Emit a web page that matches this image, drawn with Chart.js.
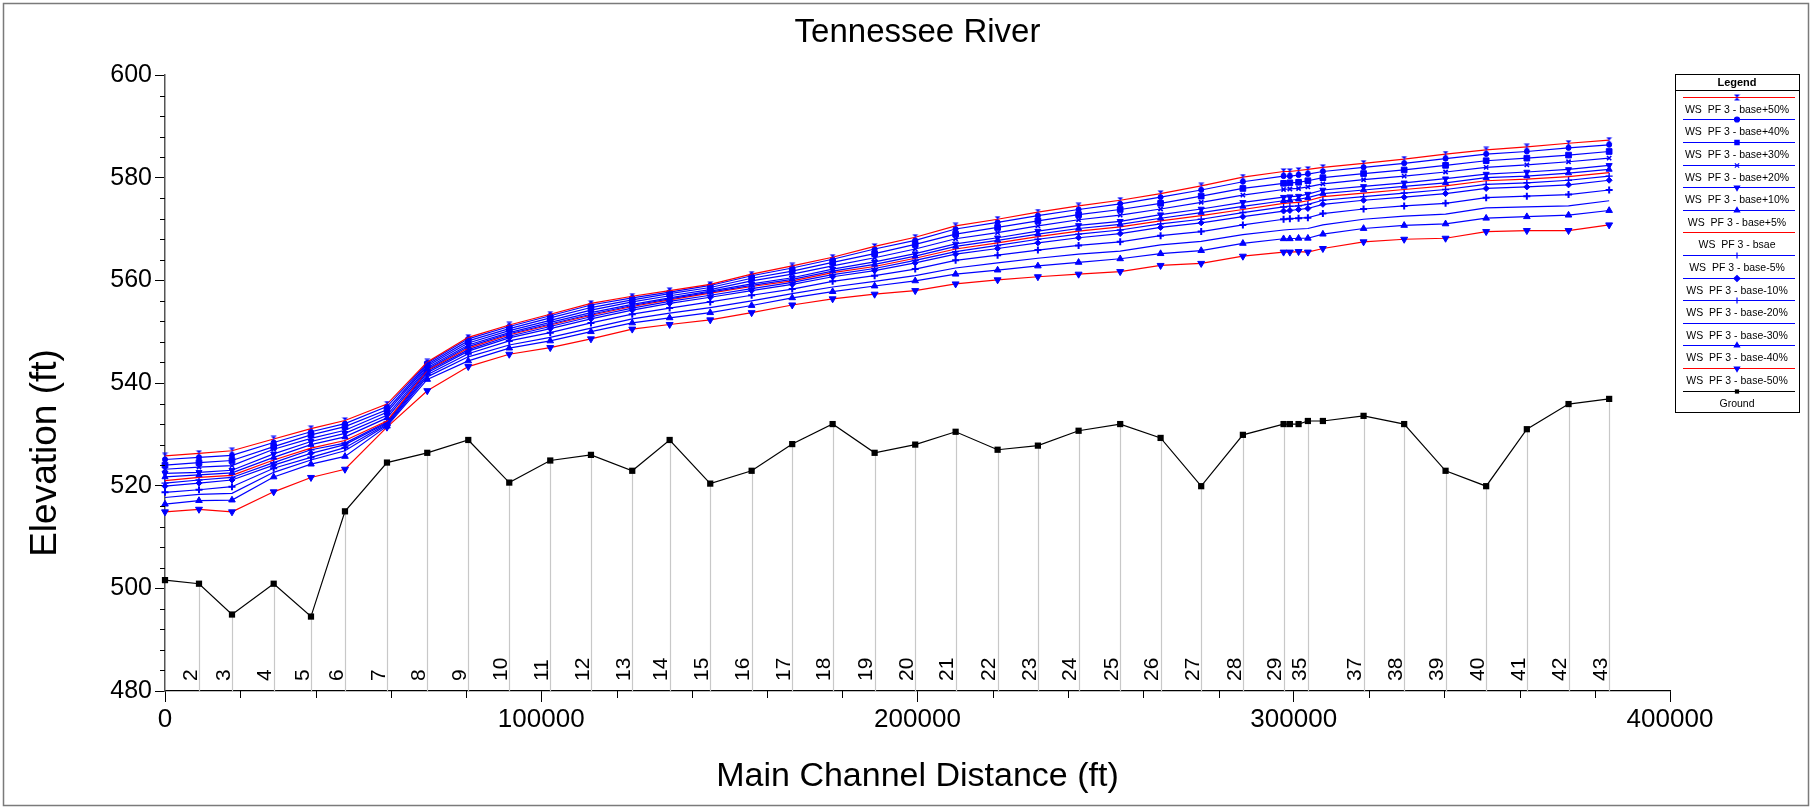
<!DOCTYPE html>
<html>
<head>
<meta charset="utf-8">
<title>Tennessee River</title>
<script src="https://cdn.jsdelivr.net/npm/chart.js@4.4.1/dist/chart.umd.min.js"></script>
<style>
  html, body { margin: 0; padding: 0; background: #ffffff; }
  #wrap { width: 1812px; height: 808px; position: relative; }
</style>
</head>
<body>
<div id="wrap"><canvas id="profile" width="1812" height="808"></canvas></div>
<script>
// Main channel distance of each cross section (ft)
const distance = [0, 9036, 17805, 28887, 38800, 47835, 58997, 69706, 80602, 91498,
  102393, 113210, 124185, 134124, 144914, 155916, 166706, 177442, 188604, 199393,
  210130, 221291, 232000, 242817, 253872, 264609, 275399, 286479, 297296, 298970,
  301282, 303755, 307741, 318557, 329347, 340350, 351139, 361952, 373033, 383828];

// River station labels ('' = not labelled)
const stationLabels = ['', '2', '3', '4', '5', '6', '7', '8', '9', '10',
  '11', '12', '13', '14', '15', '16', '17', '18', '19', '20',
  '21', '22', '23', '24', '25', '26', '27', '28', '29', '',
  '', '35', '', '37', '38', '39', '40', '41', '42', '43'];

// Channel bed elevation (ft)
const ground = [501.6, 500.9, 494.9, 500.9, 494.5, 515.0, 524.5, 526.4, 528.9, 520.6,
  524.9, 526.0, 522.9, 528.9, 520.4, 522.9, 528.1, 532.0, 526.4, 528.0,
  530.5, 527.0, 527.8, 530.7, 532.0, 529.3, 519.9, 529.9, 532.0, 532.0,
  532.0, 532.6, 532.6, 533.6, 532.0, 522.9, 519.9, 531.0, 535.9, 536.9];

// Water surface elevations, profile PF 3 (ft)
const wsPlus50 = [525.8, 526.3, 526.8, 529.1, 531.1, 532.7, 535.9, 544.1, 548.9, 551.3,
  553.4, 555.5, 556.9, 558.0, 559.2, 561.2, 562.8, 564.5, 566.6, 568.4,
  570.6, 571.9, 573.3, 574.5, 575.6, 576.9, 578.4, 580.1, 581.2, 581.2,
  581.4, 581.6, 582.0, 582.8, 583.6, 584.6, 585.4, 586.0, 586.7, 587.3];
const wsPlus40 = [525.1, 525.5, 525.9, 528.4, 530.5, 532.1, 535.4, 543.9, 548.6, 551.0,
  553.1, 555.2, 556.6, 557.7, 559.0, 560.9, 562.4, 564.1, 566.1, 567.8,
  570.0, 571.3, 572.6, 573.8, 574.9, 576.2, 577.6, 579.2, 580.3, 580.3,
  580.5, 580.7, 581.2, 582.0, 582.8, 583.7, 584.6, 585.1, 585.8, 586.4];
const wsPlus30 = [524.0, 524.5, 524.9, 527.6, 529.9, 531.5, 534.8, 543.6, 548.2, 550.6,
  552.7, 554.7, 556.2, 557.4, 558.6, 560.4, 561.8, 563.5, 565.2, 567.0,
  569.0, 570.3, 571.6, 572.8, 573.8, 575.0, 576.4, 577.9, 578.9, 579.0,
  579.1, 579.4, 580.0, 580.8, 581.5, 582.4, 583.3, 583.8, 584.4, 585.1];
const wsPlus20 = [523.2, 523.6, 523.9, 527.1, 529.2, 530.8, 534.3, 543.3, 547.8, 550.2,
  552.2, 554.2, 555.8, 557.0, 558.2, 559.9, 561.2, 562.8, 564.4, 566.1,
  568.1, 569.3, 570.6, 571.8, 572.7, 573.9, 575.2, 576.6, 577.7, 577.8,
  577.9, 578.2, 578.8, 579.6, 580.3, 581.1, 582.0, 582.5, 583.1, 583.8];
const wsPlus10 = [522.4, 522.6, 523.0, 526.2, 528.6, 530.2, 533.7, 543.0, 547.4, 549.8,
  551.8, 553.7, 555.3, 556.6, 557.9, 559.3, 560.5, 562.2, 563.6, 565.2,
  567.1, 568.3, 569.6, 570.7, 571.5, 572.8, 573.9, 575.2, 576.2, 576.3,
  576.4, 576.8, 577.6, 578.3, 579.0, 579.8, 580.7, 581.1, 581.6, 582.4];
const wsPlus5 = [521.7, 522.1, 522.5, 525.5, 528.0, 529.5, 533.2, 542.7, 547.1, 549.6,
  551.5, 553.4, 555.1, 556.4, 557.7, 559.0, 560.2, 561.8, 563.1, 564.7,
  566.6, 567.8, 569.0, 570.1, 570.9, 572.1, 573.2, 574.4, 575.5, 575.6,
  575.8, 576.1, 576.9, 577.6, 578.3, 579.0, 580.0, 580.3, 580.9, 581.6];
const wsBase = [521.0, 521.6, 522.0, 525.0, 527.3, 528.8, 532.6, 542.5, 546.8, 549.4,
  551.3, 553.2, 554.9, 556.2, 557.5, 558.8, 559.9, 561.5, 562.7, 564.3,
  566.1, 567.3, 568.5, 569.6, 570.4, 571.6, 572.6, 573.8, 575.0, 575.1,
  575.2, 575.5, 576.3, 577.0, 577.7, 578.4, 579.4, 579.7, 580.2, 581.0];
const wsMinus5 = [520.5, 521.1, 521.6, 524.5, 527.0, 528.3, 532.4, 542.3, 546.5, 549.1,
  551.0, 552.9, 554.6, 555.9, 557.1, 558.4, 559.6, 561.1, 562.3, 563.9,
  565.6, 566.8, 568.0, 569.0, 569.8, 571.0, 571.9, 573.2, 574.3, 574.4,
  574.5, 574.8, 575.6, 576.3, 577.0, 577.7, 578.7, 579.0, 579.5, 580.3];
const wsMinus10 = [519.9, 520.5, 521.1, 524.0, 526.3, 528.0, 532.2, 542.0, 546.2, 548.8,
  550.6, 552.5, 554.2, 555.5, 556.7, 558.0, 559.2, 560.7, 561.9, 563.4,
  565.1, 566.2, 567.3, 568.3, 569.1, 570.3, 571.2, 572.4, 573.5, 573.6,
  573.8, 574.0, 574.8, 575.6, 576.2, 576.9, 577.9, 578.2, 578.6, 579.5];
const wsMinus20 = [518.7, 519.2, 519.8, 523.4, 525.5, 527.4, 532.0, 541.6, 545.7, 548.2,
  549.8, 551.7, 553.4, 554.6, 555.8, 557.1, 558.3, 559.8, 560.9, 562.2,
  563.9, 564.9, 565.9, 566.8, 567.5, 568.7, 569.5, 570.8, 571.9, 572.0,
  572.1, 572.2, 573.0, 573.9, 574.5, 575.0, 576.1, 576.4, 576.7, 577.6];
const wsMinus30 = [517.7, 518.3, 518.5, 522.6, 525.0, 526.8, 531.8, 541.2, 545.1, 547.4,
  548.9, 550.7, 552.5, 553.6, 554.7, 556.0, 557.4, 558.7, 559.8, 560.9,
  562.4, 563.4, 564.3, 565.1, 565.7, 566.9, 567.6, 568.9, 569.8, 569.9,
  570.0, 570.1, 570.8, 571.9, 572.5, 572.9, 574.1, 574.3, 574.5, 575.5];
const wsMinus40 = [516.4, 517.1, 517.2, 521.7, 524.2, 525.7, 531.6, 540.7, 544.3, 546.8,
  548.2, 550.0, 551.7, 552.7, 553.7, 555.1, 556.6, 557.8, 558.9, 559.9,
  561.2, 562.0, 562.8, 563.5, 564.2, 565.2, 565.8, 567.2, 568.1, 568.1,
  568.2, 568.2, 569.0, 570.1, 570.7, 571.0, 572.1, 572.4, 572.7, 573.6];
const wsMinus50 = [514.9, 515.4, 514.9, 518.8, 521.6, 523.2, 531.4, 538.5, 543.2, 545.6,
  546.9, 548.6, 550.5, 551.4, 552.3, 553.7, 555.2, 556.4, 557.3, 558.0,
  559.3, 560.1, 560.7, 561.2, 561.7, 562.9, 563.3, 564.7, 565.5, 565.5,
  565.6, 565.5, 566.2, 567.5, 568.0, 568.2, 569.5, 569.7, 569.7, 570.8];

// Axis ranges and tick spacing
const yMin = 480, yMax = 600, yMajor = 20, yMinor = 4;
const xMin = 0, xMax = 400000, xMajor = 100000, xMinor = 20000;

const FONT = '"Liberation Sans", Arial, Helvetica, sans-serif';
const RED = '#ff0000', BLUE = '#0000ff';

// Hourglass marker used by the highest profile
function hourglass(size, color) {
  const c = document.createElement('canvas');
  c.width = size; c.height = size;
  const g = c.getContext('2d');
  g.fillStyle = color;
  g.beginPath();
  g.moveTo(0.5, 0.5); g.lineTo(size - 0.5, 0.5); g.lineTo(size / 2, size / 2);
  g.lineTo(size - 0.5, size - 0.5); g.lineTo(0.5, size - 0.5); g.lineTo(size / 2, size / 2);
  g.closePath();
  g.fill();
  return c;
}

function toPoints(values) {
  return values.map((v, i) => ({ x: distance[i], y: v }));
}

function series(label, values, line, marker) {
  return Object.assign({
    label: label,
    data: toPoints(values),
    borderColor: line,
    borderWidth: 1.2,
    backgroundColor: BLUE,
    pointBackgroundColor: BLUE,
    pointBorderColor: BLUE,
    pointBorderWidth: 1,
    pointRadius: 3.5,
    pointStyle: 'circle',
    pointRotation: 0,
    tension: 0,
    clip: false
  }, marker);
}

const datasets = [
  series('WS  PF 3 - base+50%', wsPlus50, RED, { pointStyle: hourglass(7, BLUE), pointRadius: 3.5 }),
  series('WS  PF 3 - base+40%', wsPlus40, BLUE, { pointStyle: 'circle', pointRadius: 2.5 }),
  series('WS  PF 3 - base+30%', wsPlus30, BLUE, { pointStyle: 'rect', pointRadius: 4 }),
  series('WS  PF 3 - base+20%', wsPlus20, BLUE, { pointStyle: 'crossRot', pointRadius: 3, pointBorderWidth: 1.6 }),
  series('WS  PF 3 - base+10%', wsPlus10, BLUE, { pointStyle: 'triangle', pointRotation: 180, pointRadius: 3.5 }),
  series('WS  PF 3 - base+5%', wsPlus5, BLUE, { pointStyle: 'triangle', pointRadius: 3.5 }),
  series('WS  PF 3 - bsae', wsBase, RED, { pointRadius: 0 }),
  series('WS  PF 3 - base-5%', wsMinus5, BLUE, { pointStyle: 'cross', pointRadius: 3.5, pointBorderWidth: 1.4 }),
  series('WS  PF 3 - base-10%', wsMinus10, BLUE, { pointStyle: 'rectRot', pointRadius: 3 }),
  series('WS  PF 3 - base-20%', wsMinus20, BLUE, { pointStyle: 'cross', pointRadius: 3.5, pointBorderWidth: 2 }),
  series('WS  PF 3 - base-30%', wsMinus30, BLUE, { pointRadius: 0 }),
  series('WS  PF 3 - base-40%', wsMinus40, BLUE, { pointStyle: 'triangle', pointRadius: 3.8 }),
  series('WS  PF 3 - base-50%', wsMinus50, RED, { pointStyle: 'triangle', pointRotation: 180, pointRadius: 4 }),
  {
    label: 'Ground',
    data: toPoints(ground),
    borderColor: '#000000',
    borderWidth: 1.2,
    backgroundColor: '#000000',
    pointBackgroundColor: '#000000',
    pointBorderColor: '#000000',
    pointStyle: 'rect',
    pointRadius: 4.4,
    pointBorderWidth: 0,
    tension: 0,
    clip: false
  }
];

// Frame, station lines and labels, minor ticks, titles and legend
const profileDecor = {
  id: 'profileDecor',
  beforeDraw(chart) {
    const ctx = chart.ctx;
    ctx.save();
    ctx.fillStyle = '#ffffff';
    ctx.fillRect(0, 0, chart.width, chart.height);
    ctx.strokeStyle = '#7a7a7a';
    ctx.lineWidth = 1.5;
    ctx.strokeRect(3.5, 3.5, chart.width - 7, chart.height - 6);
    ctx.restore();
  },
  beforeDatasetsDraw(chart) {
    const ctx = chart.ctx;
    const xs = chart.scales.x, ys = chart.scales.y;
    ctx.save();
    ctx.strokeStyle = '#c8c8c8';
    ctx.lineWidth = 1.2;
    const yb = ys.getPixelForValue(yMin);
    for (let i = 0; i < distance.length; i++) {
      if (!stationLabels[i]) continue;
      const px = Math.round(xs.getPixelForValue(distance[i])) + 0.5;
      ctx.beginPath();
      ctx.moveTo(px, ys.getPixelForValue(ground[i]));
      ctx.lineTo(px, yb);
      ctx.stroke();
    }
    ctx.restore();
  },
  afterDraw(chart) {
    const ctx = chart.ctx;
    const xs = chart.scales.x, ys = chart.scales.y;
    const area = chart.chartArea;
    ctx.save();

    // minor ticks
    ctx.strokeStyle = '#000000';
    ctx.lineWidth = 1;
    for (let v = yMin; v <= yMax; v += yMinor) {
      if (v % yMajor === 0) continue;
      const py = Math.round(ys.getPixelForValue(v)) + 0.5;
      ctx.beginPath(); ctx.moveTo(area.left - 5, py); ctx.lineTo(area.left, py); ctx.stroke();
    }
    for (let v = xMin; v <= xMax; v += xMinor) {
      if (v % xMajor === 0) continue;
      const px = Math.round(xs.getPixelForValue(v)) + 0.5;
      ctx.beginPath(); ctx.moveTo(px, area.bottom); ctx.lineTo(px, area.bottom + 7); ctx.stroke();
    }

    // river station labels
    ctx.fillStyle = '#000000';
    ctx.font = '21px ' + FONT;
    ctx.textAlign = 'left';
    ctx.textBaseline = 'middle';
    for (let i = 0; i < distance.length; i++) {
      if (!stationLabels[i]) continue;
      const px = xs.getPixelForValue(distance[i]);
      ctx.save();
      ctx.translate(px - 8, 681);
      ctx.rotate(-Math.PI / 2);
      ctx.fillText(stationLabels[i], 0, 0);
      ctx.restore();
    }

    // chart and axis titles
    ctx.textAlign = 'center';
    ctx.font = '33px ' + FONT;
    ctx.fillText('Tennessee River', (area.left + area.right) / 2, 33);
    ctx.font = '34px ' + FONT;
    ctx.fillText('Main Channel Distance (ft)', (area.left + area.right) / 2, 777);
    ctx.save();
    ctx.translate(46, 453);
    ctx.rotate(-Math.PI / 2);
    ctx.font = '37px ' + FONT;
    ctx.fillText('Elevation (ft)', 0, 0);
    ctx.restore();

    // legend box
    const lx = 1675, ly = 74, lw = 124, lh = 338;
    ctx.fillStyle = '#ffffff';
    ctx.fillRect(lx, ly, lw, lh);
    ctx.strokeStyle = '#000000';
    ctx.lineWidth = 1;
    ctx.strokeRect(lx + 0.5, ly + 0.5, lw, lh);
    ctx.beginPath(); ctx.moveTo(lx, ly + 16.5); ctx.lineTo(lx + lw, ly + 16.5); ctx.stroke();
    ctx.fillStyle = '#000000';
    ctx.font = 'bold 11px ' + FONT;
    ctx.fillText('Legend', lx + lw / 2, ly + 9);
    ctx.font = '10.5px ' + FONT;
    const cx = lx + lw / 2;
    chart.data.datasets.forEach((ds, i) => {
      const yLine = Math.round(ly + 22.7 + 22.6 * i) + 0.5;
      ctx.strokeStyle = ds.borderColor;
      ctx.lineWidth = 1.2;
      ctx.beginPath(); ctx.moveTo(lx + 8, yLine); ctx.lineTo(lx + lw - 4, yLine); ctx.stroke();
      if (ds.pointRadius > 0) {
        ctx.fillStyle = ds.pointBackgroundColor;
        ctx.strokeStyle = ds.pointBorderColor;
        Chart.helpers.drawPoint(ctx, {
          pointStyle: ds.pointStyle,
          rotation: ds.pointRotation || 0,
          radius: Math.min(ds.pointRadius, 3),
          borderWidth: ds.pointBorderWidth
        }, cx, yLine);
      }
      ctx.fillStyle = '#000000';
      ctx.fillText(ds.label, cx, yLine + 12.6);
    });
    ctx.restore();
  }
};

new Chart(document.getElementById('profile'), {
  type: 'line',
  data: { datasets: datasets },
  options: {
    responsive: false,
    animation: false,
    devicePixelRatio: 1,
    layout: { padding: { top: 75, right: 142, bottom: 0, left: 0 } },
    plugins: { legend: { display: false }, tooltip: { enabled: false }, title: { display: false } },
    elements: { line: { borderJoinStyle: 'miter' } },
    scales: {
      x: {
        type: 'linear',
        min: xMin, max: xMax,
        afterFit(scale) { scale.height = 117; },
        border: { display: true, color: '#000000', width: 1.2 },
        grid: { display: true, drawOnChartArea: false, drawTicks: true, tickLength: 11, tickColor: '#000000' },
        ticks: {
          stepSize: xMajor, autoSkip: false, maxRotation: 0, padding: 2,
          color: '#000000', font: { family: FONT, size: 26 },
          callback: (v) => String(v)
        }
      },
      y: {
        type: 'linear',
        min: yMin, max: yMax,
        afterFit(scale) { scale.width = 165; },
        border: { display: true, color: '#555555', width: 1.5 },
        grid: { display: true, drawOnChartArea: false, drawTicks: true, tickLength: 10, tickColor: '#000000' },
        ticks: {
          stepSize: yMajor, padding: 3,
          color: '#000000', font: { family: FONT, size: 25 },
          callback: (v) => String(v)
        }
      }
    }
  },
  plugins: [profileDecor]
});
</script>
</body>
</html>
